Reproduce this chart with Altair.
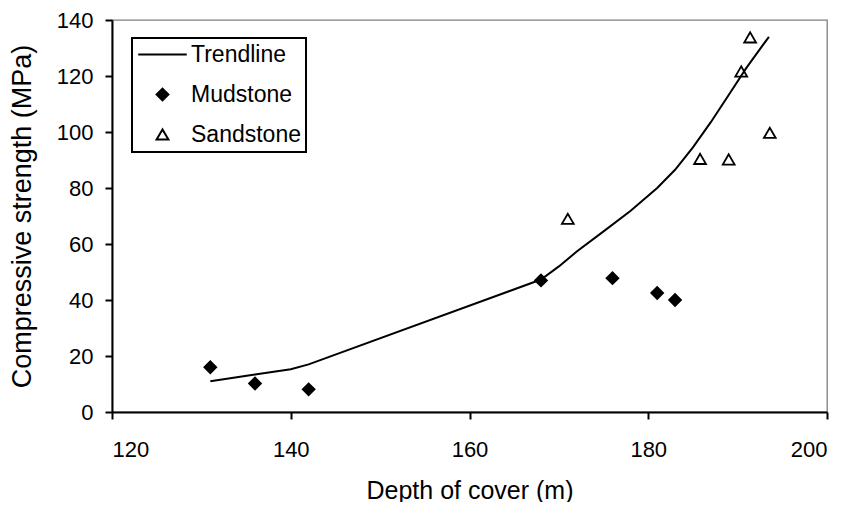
import altair as alt
import pandas as pd

# ---- data ----
mud_x = [131.0, 136.0, 142.0, 168.0, 176.0, 181.0, 183.0]
mud_y = [16.0, 10.2, 8.1, 47.0, 47.8, 42.5, 40.0]

sand_x = [171.0, 185.8, 189.0, 190.4, 191.4, 193.6]
sand_y = [69.0, 90.4, 90.2, 121.6, 133.8, 99.7]

trend_x = [131.0, 136.0, 140.0, 142.0, 168.0, 170.0, 172.0, 175.0, 178.0, 181.0, 183.0,
           185.0, 187.0, 189.0, 191.0, 193.5]
trend_y = [11.0, 13.4, 15.3, 17.0, 47.3, 52.0, 57.3, 64.5, 71.8, 80.0, 86.5,
           94.5, 103.5, 113.2, 123.0, 134.0]

series_names = ["Trendline", "Mudstone", "Sandstone"]
x_ticks = [120, 140, 160, 180, 200]
y_ticks = [0, 20, 40, 60, 80, 100, 120, 140]

TREND_SYMBOL = "M-4.1,0H4.1"
FONT = "Liberation Sans"

points = pd.DataFrame({
    "depth": mud_x + sand_x,
    "strength": mud_y + sand_y,
    "series": ["Mudstone"] * len(mud_x) + ["Sandstone"] * len(sand_x),
})
trend = pd.DataFrame({"depth": trend_x, "strength": trend_y})

x_enc = alt.X(
    "depth:Q",
    scale=alt.Scale(domain=[120, 200], nice=False, zero=False),
    axis=alt.Axis(
        values=x_ticks, title="Depth of cover (m)", grid=False,
        domainColor="black", domainWidth=2, tickColor="black", tickWidth=2, tickSize=7,
        labelFont=FONT, labelFontSize=22, labelColor="black", labelPadding=20,
        titleFont=FONT, titleFontSize=25, titleFontWeight="normal", titleColor="black",
        titleY=86, titleBaseline="alphabetic",
    ),
)
y_enc = alt.Y(
    "strength:Q",
    scale=alt.Scale(domain=[0, 140], nice=False),
    axis=alt.Axis(
        values=y_ticks, title="Compressive strength (MPa)", grid=False,
        domainColor="black", domainWidth=2, tickColor="black", tickWidth=2, tickSize=7,
        labelFont=FONT, labelFontSize=22, labelColor="black", labelPadding=12, labelOffset=0.5,
        titleFont=FONT, titleFontSize=27, titleFontWeight="normal", titleColor="black",
        titleX=-82, titleY=196, titleAlign="center", titleBaseline="alphabetic", titleAngle=270,
    ),
)

legend_props = dict(
    title=None, orient="none", legendX=20, legendY=18, padding=5,
    strokeColor="black", fillColor="white",
    labelFont=FONT, labelFontSize=23, labelColor="black",
    symbolSize=140, symbolStrokeWidth=2,
    symbolOffset=14, labelOffset=17, rowPadding=16,
)

line = alt.Chart(trend).mark_line(
    color="black", strokeWidth=2, interpolate="linear"
).encode(x=x_enc, y=y_enc)

pts = alt.Chart(points).mark_point(
    filled=True, size=140, strokeWidth=1.8, opacity=1
).encode(
    x=x_enc,
    y=y_enc,
    shape=alt.Shape(
        "series:N",
        scale=alt.Scale(domain=series_names, range=[TREND_SYMBOL, "diamond", "triangle-up"]),
        legend=alt.Legend(**legend_props),
    ),
    fill=alt.Fill(
        "series:N",
        scale=alt.Scale(domain=series_names, range=["transparent", "black", "transparent"]),
        legend=alt.Legend(**legend_props),
    ),
    stroke=alt.Stroke(
        "series:N",
        scale=alt.Scale(domain=series_names, range=["black", "black", "black"]),
        legend=alt.Legend(**legend_props),
    ),
)

chart = (
    alt.layer(line, pts)
    .properties(
        width=715, height=392,
        autosize=alt.AutoSizeParams(type="none"),
        padding={"left": 104, "top": 12, "right": 18, "bottom": 90},
        background="white",
    )
    .configure_view(stroke="#7f7f7f", strokeWidth=1.3)
    .configure_legend(strokeWidth=2)
)

chart.save("out.html", embed_options={"renderer": "svg", "actions": False})
